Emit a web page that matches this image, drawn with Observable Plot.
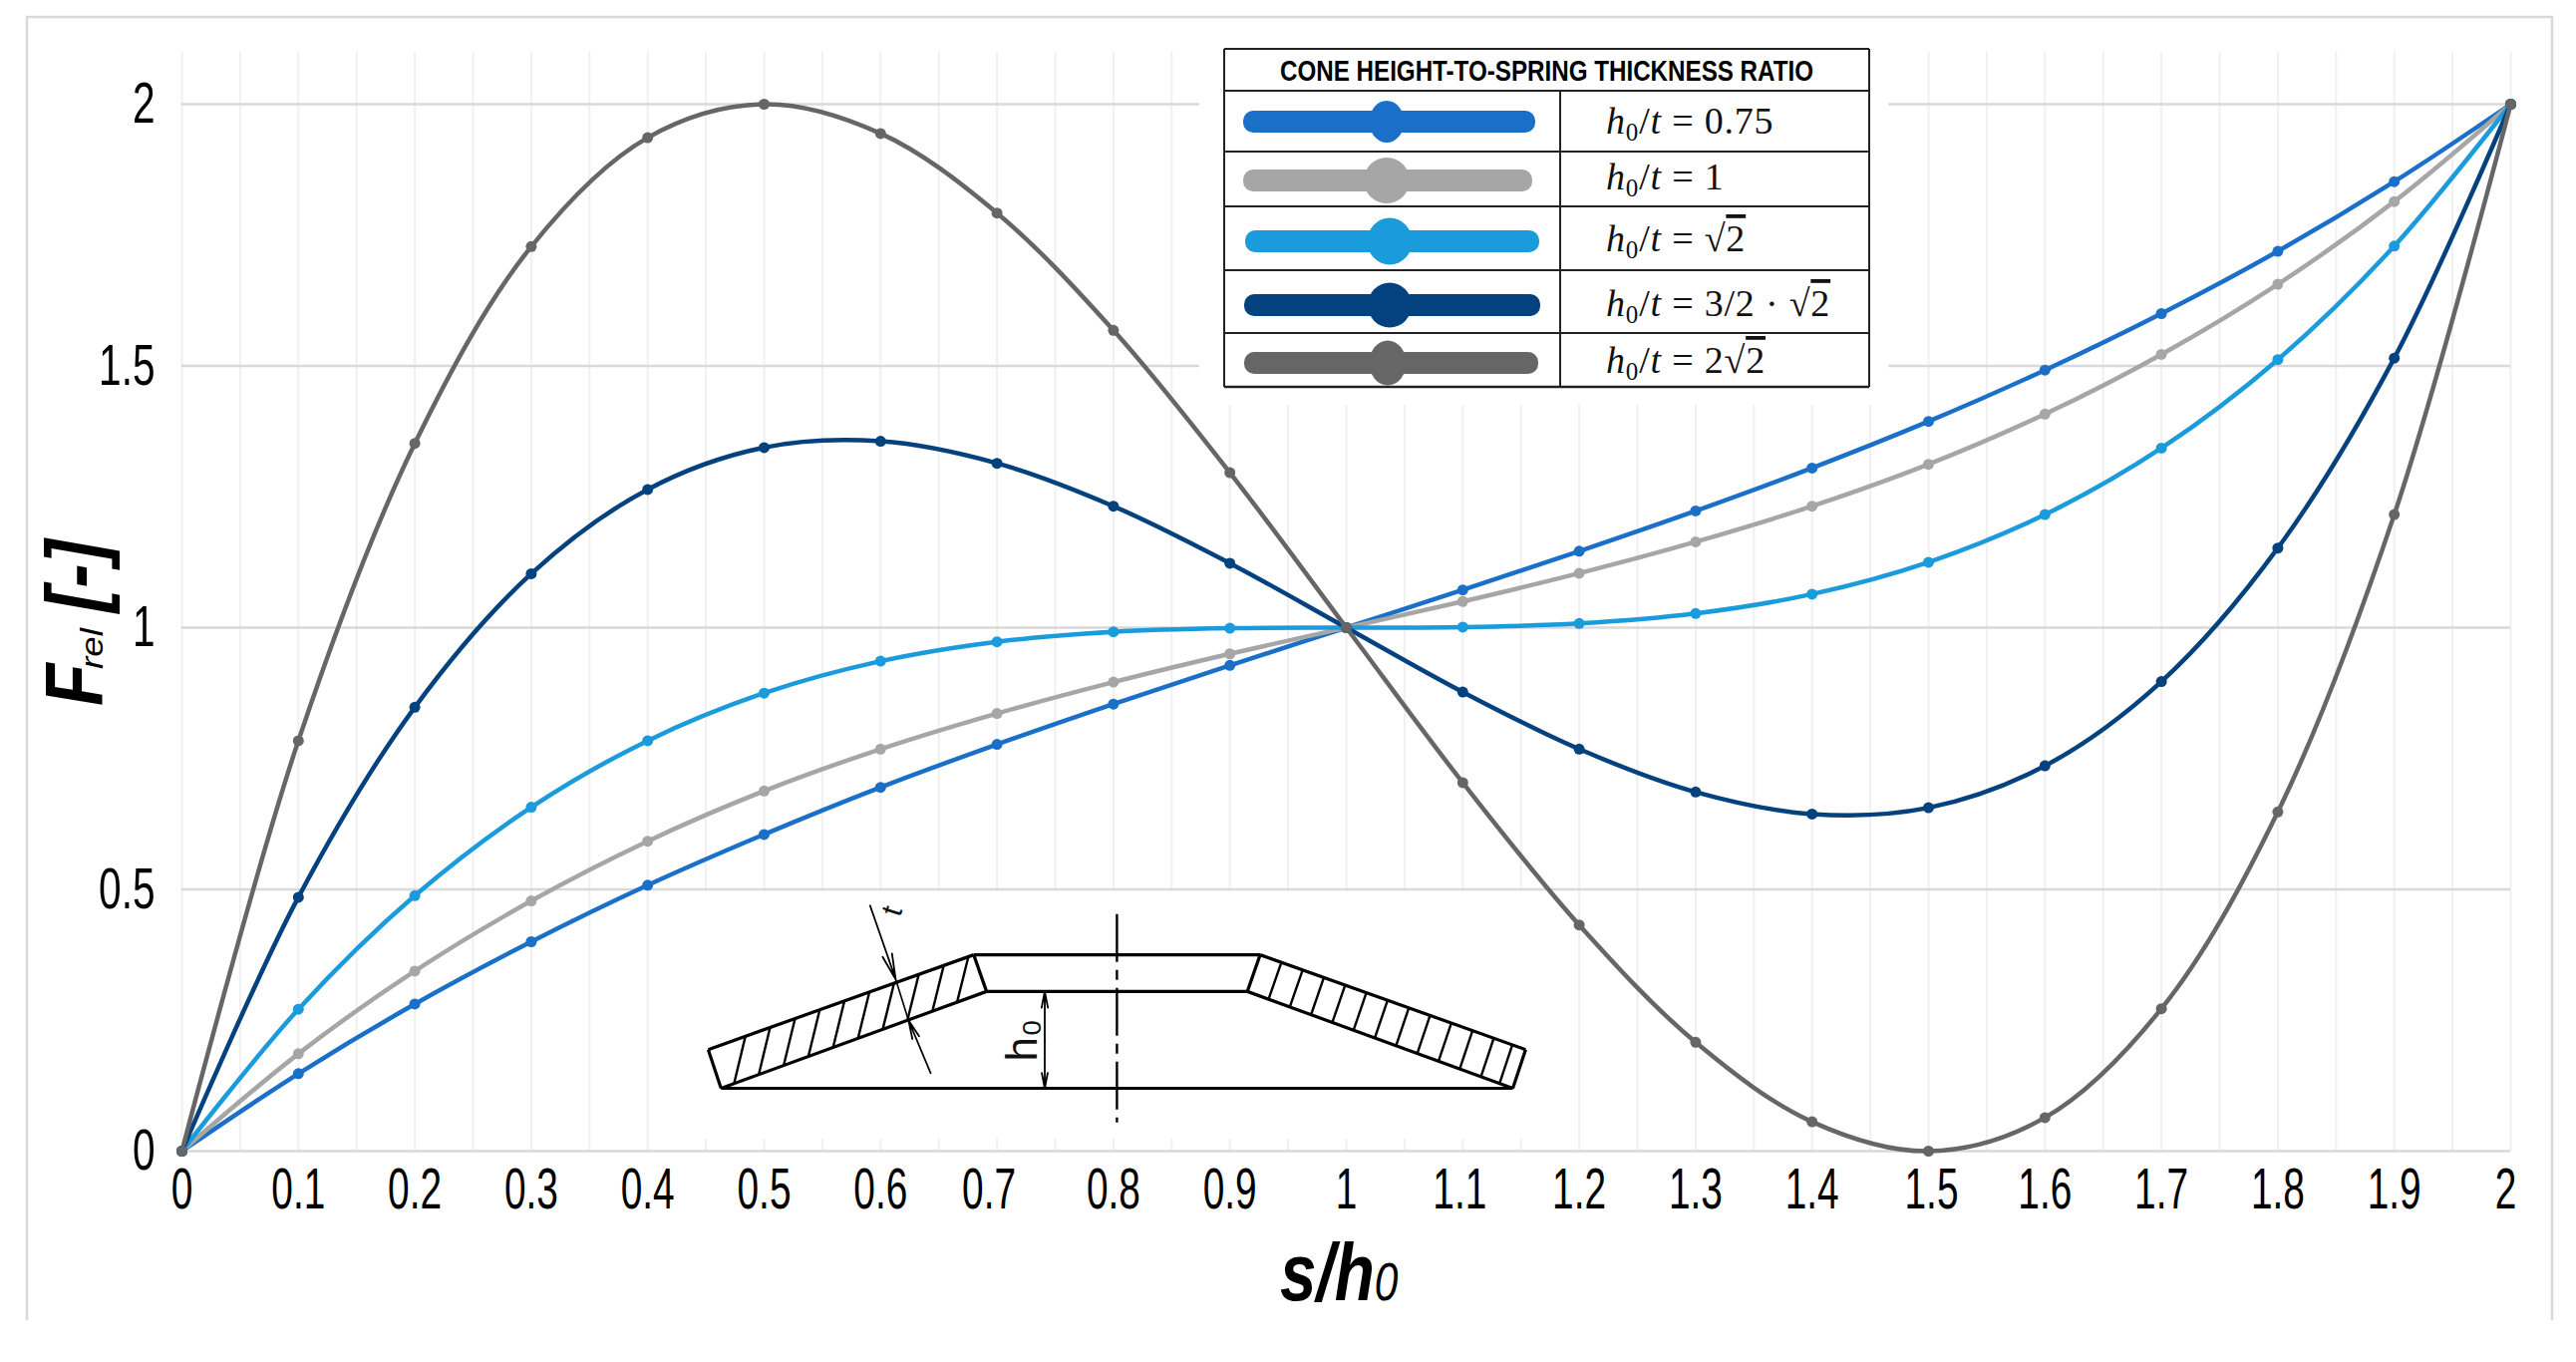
<!DOCTYPE html>
<html>
<head>
<meta charset="utf-8">
<style>html,body{margin:0;padding:0;background:#fff}#chart svg{display:block;background:#fff}</style>
<script src="https://cdn.jsdelivr.net/npm/d3@7"></script>
<script src="https://cdn.jsdelivr.net/npm/@observablehq/plot@0.6"></script>
</head>
<body>
<div id="chart"></div>
<script>
// ---- chart data ----
const sRatio = [0,0.1,0.2,0.3,0.4,0.5,0.6,0.7,0.8,0.9,1,1.1,1.2,1.3,1.4,1.5,1.6,1.7,1.8,1.9,2];
const ratio075 = [0,0.148,0.281,0.400,0.508,0.605,0.695,0.777,0.854,0.928,1,1.072,1.146,1.223,1.305,1.394,1.492,1.600,1.719,1.852,2];
const ratio1 = [0,0.186,0.344,0.478,0.592,0.688,0.768,0.836,0.896,0.950,1,1.050,1.104,1.164,1.232,1.312,1.408,1.522,1.656,1.814,2];
const ratioSqrt2 = [0,0.271,0.488,0.657,0.784,0.875,0.936,0.973,0.992,0.999,1,1.001,1.008,1.027,1.064,1.125,1.216,1.343,1.512,1.729,2];
const ratio15Sqrt2 = [0,0.485,0.848,1.103,1.264,1.344,1.356,1.314,1.232,1.123,1,0.877,0.768,0.686,0.644,0.656,0.736,0.897,1.152,1.515,2];
const ratio2Sqrt2 = [0,0.784,1.352,1.728,1.936,2,1.944,1.792,1.568,1.296,1,0.704,0.432,0.208,0.056,0,0.064,0.272,0.648,1.216,2];

const seriesNames = ["0.75","1","√2","3/2·√2","2√2"];
const seriesValues = [ratio075,ratio1,ratioSqrt2,ratio15Sqrt2,ratio2Sqrt2];
const seriesColors = ["#1a70c8","#a6a6a6","#1a9bdb","#03417f","#666666"];
const yTicks = [0,0.5,1,1.5,2];
const minorGrid = d3.range(0,41).map(i => i/20);
const legendTitle = "CONE HEIGHT-TO-SPRING THICKNESS RATIO";

// inset drawing of the disc spring, in chart units
const springOutline = [
  [0.463,0.120,1.143,0.120],[0.680,0.375,0.926,0.375],[0.691,0.305,0.915,0.305],
  [0.452,0.194,0.680,0.375],[0.463,0.120,0.691,0.305],[0.452,0.194,0.463,0.120],[0.680,0.375,0.691,0.305],
  [0.926,0.375,1.154,0.194],[0.915,0.305,1.143,0.120],[1.154,0.194,1.143,0.120],[0.926,0.375,0.915,0.305]
];
const hatchLeftTop = [0.14,0.233,0.327,0.42,0.513,0.607,0.70,0.793,0.887,0.98];
const hatchRightTop = [0.08,0.16,0.24,0.32,0.40,0.48,0.56,0.64,0.72,0.80,0.88,0.95];
const hatches = [
  ...hatchLeftTop.map(t => [0.463+0.228*(t-0.091),0.120+0.185*(t-0.091),0.452+0.228*t,0.194+0.181*t]),
  ...hatchRightTop.map(t => [0.915+0.228*t,0.305-0.185*t,0.926+0.228*t,0.375-0.181*t])
];
const centerLine = [[0.803,0.453,0.803,0.055]];
const dimLines = [[0.613,0.328,0.624,0.250]];
const dimArrows = [[0.591,0.469,0.613,0.328],[0.643,0.149,0.624,0.250],[0.741,0.21,0.741,0.305],[0.741,0.21,0.741,0.120]];
const insetLabels = [{x:0.722,y:0.212,text:"h₀",size:44,rot:-90},{x:0.610,y:0.459,text:"t",size:30,rot:-72}];
const blanks = [[0.439,1.18,0.023,0.495],[0.874,1.466,1.425,2.2]];
const tickNudges = {"0.7":-8,"1.1":-3,"1.5":3,"2":-5};

const long = seriesNames.flatMap((name,i) => sRatio.map((s,j) => ({s, f:seriesValues[i][j], name})));
const seg = {x1:d=>d[0],y1:d=>d[1],x2:d=>d[2],y2:d=>d[3]};
const FONT = "Liberation Sans";

const plot = Plot.plot({
  width:2584, height:1366, marginLeft:182, marginRight:66, marginTop:104, marginBottom:212,
  style:{background:"#fff"},
  x:{domain:[0,2]}, y:{domain:[0,2]},
  color:{domain:seriesNames, range:seriesColors},
  marks:[
    Plot.ruleX(minorGrid,{y1:0,y2:2.1,stroke:"#f0f0f0",strokeWidth:2}),
    Plot.ruleY(yTicks,{stroke:"#d9d9d9",strokeWidth:2.5}),
    Plot.rect(blanks,{x1:d=>d[0],x2:d=>d[1],y1:d=>d[2],y2:d=>d[3],fill:"#fff"}),
    Plot.axisX({ticks:sRatio,tickSize:0,tickPadding:16,fontSize:58,fontFamily:FONT,fill:"#000",label:null,tickFormat:d=>String(d)}),
    Plot.axisY({ticks:yTicks,tickSize:0,tickPadding:27,fontSize:58,fontFamily:FONT,fill:"#000",label:null,tickFormat:d=>String(d)}),
    Plot.line(long,{x:"s",y:"f",z:"name",stroke:"name",strokeWidth:4.5,curve:"catmull-rom"}),
    Plot.dot(long,{x:"s",y:"f",fill:"name",r:5.5}),
    Plot.link(springOutline,{...seg,stroke:"#000",strokeWidth:3.2}),
    Plot.link(hatches,{...seg,stroke:"#000",strokeWidth:2.4}),
    Plot.link(centerLine,{...seg,stroke:"#000",strokeWidth:2.4,strokeDasharray:"48 8 10 8"}),
    Plot.link(dimLines,{...seg,stroke:"#000",strokeWidth:1.6}),
    Plot.arrow(dimArrows,{...seg,stroke:"#000",strokeWidth:1.8,headLength:22,headAngle:22,bend:0}),
    Plot.text(insetLabels,{x:"x",y:"y",text:"text",fontSize:"size",rotate:"rot",fontFamily:FONT,fill:"#111"})
  ]
});
document.getElementById("chart").append(plot);
const svg = d3.select(plot);

// narrow tick labels
svg.selectAll('g[aria-label="x-axis tick label"] text').each(function(){
  this.setAttribute("textLength", this.getComputedTextLength()*0.67);
  this.setAttribute("lengthAdjust","spacingAndGlyphs");
  const n = tickNudges[this.textContent];
  if (n) this.setAttribute("dx", n);
});
svg.selectAll('g[aria-label="y-axis tick label"] text').each(function(){
  this.setAttribute("textLength", this.getComputedTextLength()*0.70);
  this.setAttribute("lengthAdjust","spacingAndGlyphs");
});

// outer frame, open at the bottom
svg.append("path").attr("d","M27,1324V17H2560V1324").attr("fill","none").attr("stroke","#d9d9d9").attr("stroke-width",2.5);

// axis titles
const xt = svg.append("text").attr("transform","translate(1284,1304) scale(0.8,1)").attr("text-anchor","start").attr("font-family",FONT).attr("font-style","italic").attr("fill","#000");
xt.append("tspan").attr("font-size",82).attr("font-weight","bold").text("s/h");
xt.append("tspan").attr("font-size",53).text("0");
const yT = (y,sx,size,weight,txt) => svg.append("text").attr("text-anchor","start").attr("transform",`translate(103,${y}) rotate(-90) scale(${sx},1)`)
  .attr("font-family",FONT).attr("font-style","italic").attr("font-weight",weight).attr("font-size",size).attr("fill","#000").text(txt);
yT(708,0.86,81,"bold","F");
yT(671,1.15,32,"normal","rel");
yT(614,0.9,81,"bold","[-]");

// legend table
const L = {x0:1228,x1:1875,xm:1565,rows:[49,91,152,207,271,334,388]};
const lg = svg.append("g").attr("aria-label","legend");
L.rows.forEach((y,i)=>lg.append("line").attr("x1",L.x0).attr("x2",L.x1).attr("y1",y).attr("y2",y).attr("stroke","#222").attr("stroke-width",i===L.rows.length-1?2.5:2));
[L.x0,L.x1].forEach(x=>lg.append("line").attr("x1",x).attr("x2",x).attr("y1",L.rows[0]).attr("y2",L.rows[6]).attr("stroke","#222").attr("stroke-width",2));
lg.append("line").attr("x1",L.xm).attr("x2",L.xm).attr("y1",L.rows[1]).attr("y2",L.rows[6]).attr("stroke","#222").attr("stroke-width",2);
lg.append("text").attr("x",(L.x0+L.x1)/2).attr("y",81).attr("text-anchor","middle").attr("font-family",FONT).attr("font-weight","bold").attr("font-size",29)
  .attr("textLength",535).attr("lengthAdjust","spacingAndGlyphs").attr("fill","#000").text(legendTitle);
const swatches = [[1247,1540,122,35,42,1391],[1247,1537,181,46,46,1391],[1249,1544,242,45,47,1394],[1248,1545,306,44,45,1394],[1248,1543,364,37,45,1392]];
const baselines = [134,190,252,317,374];
swatches.forEach((s,i)=>{
  lg.append("rect").attr("x",s[0]).attr("y",s[2]-11).attr("width",s[1]-s[0]).attr("height",22).attr("rx",10).attr("fill",seriesColors[i]);
  lg.append("ellipse").attr("cx",s[5]).attr("cy",s[2]).attr("rx",s[3]/2).attr("ry",s[4]/2).attr("fill",seriesColors[i]);
  const t = lg.append("text").attr("text-anchor","start").attr("x",1611).attr("y",baselines[i]).attr("font-family","Liberation Serif").attr("font-size",38).attr("fill","#111").attr("letter-spacing",0.8);
  t.append("tspan").attr("font-style","italic").text("h");
  t.append("tspan").attr("font-size",25).attr("dy",7).text("0");
  t.append("tspan").attr("dy",-7).text("/");
  t.append("tspan").attr("font-style","italic").text("t");
  t.append("tspan").text(" = ");
  seriesNames[i].split(/(√2)/).filter(Boolean).forEach(part=>{
    if(part==="√2"){ t.append("tspan").text("√"); t.append("tspan").style("text-decoration","overline").text("2"); }
    else t.append("tspan").text(part.replace("·"," · "));
  });
});
</script>
</body>
</html>
